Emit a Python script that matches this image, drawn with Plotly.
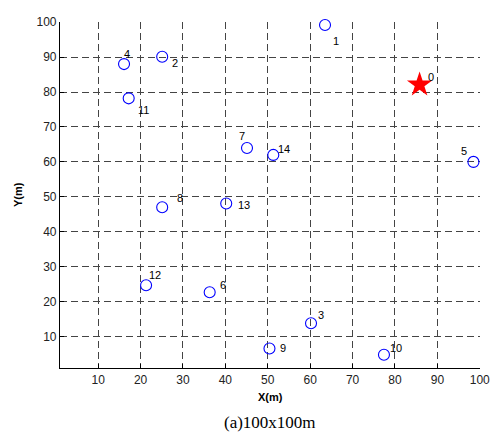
import plotly.graph_objects as go

# Data
node_ids = [1, 2, 3, 4, 5, 6, 7, 8, 9, 10, 11, 12, 13, 14]
node_x = [63.5, 25.1, 60.2, 16.1, 98.5, 36.3, 45.1, 25.1, 50.4, 77.4, 17.2, 21.3, 40.2, 51.3]
node_y = [99.2, 90.1, 13.8, 88.0, 60.0, 22.7, 64.0, 47.0, 6.6, 4.8, 78.2, 24.7, 48.1, 62.0]
sink_id = [0]
sink_x = [85.8]
sink_y = [82.1]
tick_vals = [10, 20, 30, 40, 50, 60, 70, 80, 90, 100]

# label offsets (data units) for the node number labels
label_dx = [2.7, 3.0, 2.3, 0.8, -2.3, 3.2, -1.2, 4.1, 3.2, 2.8, 3.6, 2.1, 4.2, 2.5]
label_dy = [-4.7, -1.8, 2.4, 2.8, 3.2, 2.0, 3.4, 2.8, 0.2, 2.0, -3.4, 3.0, -0.3, 1.6]
sink_dx = [2.8]
sink_dy = [2.2]

fig = go.Figure()
fig.add_trace(go.Scatter(
    x=node_x, y=node_y, mode="markers",
    marker=dict(symbol="circle-open", size=11, color="#0000ff", line=dict(width=1.1, color="#0000ff")),
    showlegend=False, cliponaxis=False))
fig.add_trace(go.Scatter(
    x=sink_x, y=sink_y, mode="markers",
    marker=dict(symbol="star", size=19, color="#ff0000", line=dict(width=0)),
    showlegend=False, cliponaxis=False))

lab_font = dict(family="Liberation Sans, Arial, sans-serif", size=11, color="#000000")
for i, nid in enumerate(node_ids):
    fig.add_annotation(x=node_x[i] + label_dx[i], y=node_y[i] + label_dy[i], text=str(nid),
                       showarrow=False, font=lab_font, xanchor="center", yanchor="middle")
for i, nid in enumerate(sink_id):
    fig.add_annotation(x=sink_x[i] + sink_dx[i], y=sink_y[i] + sink_dy[i], text=str(nid),
                       showarrow=False, font=lab_font, xanchor="center", yanchor="middle")

fig.add_annotation(x=0.5, xref="paper", y=-0.06, yref="paper", text="<b>X(m)</b>", showarrow=False,
                   font=dict(family="Liberation Sans, Arial, sans-serif", size=11, color="#000000"),
                   xanchor="center", yanchor="top")
fig.add_annotation(x=-0.1, xref="paper", y=0.5, yref="paper", text="<b>Y(m)</b>", showarrow=False,
                   textangle=-90,
                   font=dict(family="Liberation Sans, Arial, sans-serif", size=11, color="#000000"),
                   xanchor="center", yanchor="middle")
fig.add_annotation(x=0.5, xref="paper", y=-0.125, yref="paper", text="(a)100x100m", showarrow=False,
                   font=dict(family="Liberation Serif, Times New Roman, serif", size=17, color="#000000"),
                   xanchor="center", yanchor="top")

axis_common = dict(
    tickvals=tick_vals, ticks="inside", ticklen=4, tickwidth=1, tickcolor="#000000",
    showgrid=True, gridcolor="#444444", gridwidth=1, griddash="7px,4px",
    showline=True, linecolor="#000000", linewidth=1.2, zeroline=False,
    tickfont=dict(family="Liberation Sans, Arial, sans-serif", size=12, color="#222222"),
    fixedrange=True,
)
fig.update_xaxes(range=[1, 100.05], **axis_common)
fig.update_yaxes(range=[1, 100.05], **axis_common)

fig.update_layout(
    width=499, height=439,
    margin=dict(l=52, r=27, t=7, b=79),
    paper_bgcolor="#ffffff", plot_bgcolor="#ffffff",
    showlegend=False,
)

fig.write_html("out.html")
